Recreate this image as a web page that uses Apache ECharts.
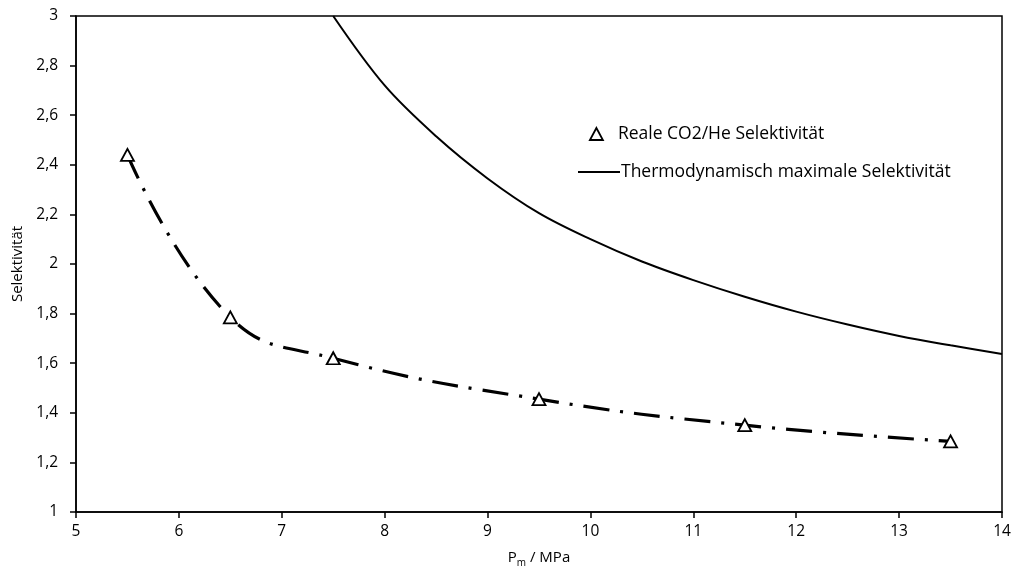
<!DOCTYPE html>
<html>
<head>
<meta charset="utf-8">
<script src="https://cdn.jsdelivr.net/npm/echarts@6/dist/echarts.min.js"></script>
<style>
html,body{margin:0;padding:0;background:#fff;}
#chart{width:1014px;height:574px;}
</style>
</head>
<body>
<div id="chart"></div>
<script>
// Measured points: real CO2/He selectivity
const realX = [5.5, 6.5, 7.5, 9.5, 11.5, 13.5];
const realY = [2.44, 1.785, 1.62, 1.455, 1.35, 1.285];
// Thermodynamic maximum selectivity curve
const thermoX = [7.5, 8, 8.5, 9, 9.5, 10, 10.5, 11, 11.5, 12, 12.5, 13, 13.5, 14];
const thermoY = [3.0, 2.72, 2.515, 2.345, 2.205, 2.10, 2.01, 1.935, 1.868, 1.808, 1.756, 1.71, 1.672, 1.637];
const seriesNames = ['Reale CO2/He Selektivität', 'Thermodynamisch maximale Selektivität'];
const xTicks = [5, 6, 7, 8, 9, 10, 11, 12, 13, 14];
const yTicks = [1, 1.2, 1.4, 1.6, 1.8, 2, 2.2, 2.4, 2.6, 2.8, 3];

const FONT = 'Open Sans';
const pairs = (xs, ys) => xs.map((x, i) => [x, ys[i]]);
const fmt = v => String(Math.round(v * 10) / 10).replace('.', ',');
const legendText = { fontFamily: FONT, fontSize: 17.5, color: '#000' };

const chart = echarts.init(document.getElementById('chart'));
chart.setOption({
  animation: false,
  backgroundColor: '#fff',
  grid: { left: 76, right: 12, top: 16, bottom: 62, containLabel: false, outerBoundsMode: 'none', show: true, borderColor: '#000', borderWidth: 1.5, backgroundColor: 'transparent' },
  legend: [
    {
      left: 584, top: 120, itemWidth: 13, itemHeight: 12,
      textStyle: Object.assign({ padding: [0, 0, 0, 10] }, legendText),
      data: [{ name: seriesNames[0], icon: 'triangle', itemStyle: { color: '#fff', borderColor: '#000', borderWidth: 1.8 } }]
    },
    {
      left: 573, top: 158, itemWidth: 42, itemHeight: 12,
      textStyle: Object.assign({ padding: [0, 0, 0, -4] }, legendText),
      data: [{ name: seriesNames[1], icon: 'path://M0,0 L40,0 L40,2 L0,2 Z', itemStyle: { color: '#000' } }]
    }
  ],
  xAxis: {
    type: 'value', min: xTicks[0], max: xTicks[xTicks.length - 1], interval: 1,
    name: '{a|P}{s|m}{a| / MPa}', nameLocation: 'middle', nameGap: 36,
    nameTextStyle: { rich: { a: { fontFamily: FONT, fontSize: 15, color: '#000' }, s: { fontFamily: FONT, fontSize: 10, color: '#000', verticalAlign: 'bottom', padding: [10, 0, 0, 0] } } },
    axisLine: { show: true, lineStyle: { color: '#000', width: 1.5 } },
    axisTick: { show: true, inside: false, length: 6, lineStyle: { color: '#000', width: 1.5 } },
    axisLabel: { color: '#000', fontFamily: FONT, fontSize: 15.5, margin: 12 },
    splitLine: { show: false }
  },
  yAxis: {
    type: 'value', min: yTicks[0], max: yTicks[yTicks.length - 1], interval: 0.2,
    name: 'Selektivität', nameLocation: 'middle', nameGap: 50, nameRotate: 90,
    nameTextStyle: { fontFamily: FONT, fontSize: 15, color: '#000' },
    axisLine: { show: true, lineStyle: { color: '#000', width: 1.5 } },
    axisTick: { show: true, inside: false, length: 6, lineStyle: { color: '#000', width: 1.5 } },
    axisLabel: { color: '#000', fontFamily: FONT, fontSize: 15.5, margin: 18, formatter: fmt },
    splitLine: { show: false }
  },
  series: [
    {
      name: seriesNames[0], type: 'line', data: pairs(realX, realY),
      smooth: 0.45,
      symbol: 'triangle', symbolSize: [13, 12], showSymbol: true,
      itemStyle: { color: '#fff', borderColor: '#000', borderWidth: 1.8 },
      lineStyle: { color: '#000', width: 3.2, type: [26, 11, 3, 11] },
      z: 3
    },
    {
      name: seriesNames[1], type: 'line', data: pairs(thermoX, thermoY),
      smooth: 0.35, showSymbol: false, symbol: 'none',
      lineStyle: { color: '#000', width: 2 },
      itemStyle: { color: '#000' },
      z: 2
    }
  ]
});
</script>
</body>
</html>
